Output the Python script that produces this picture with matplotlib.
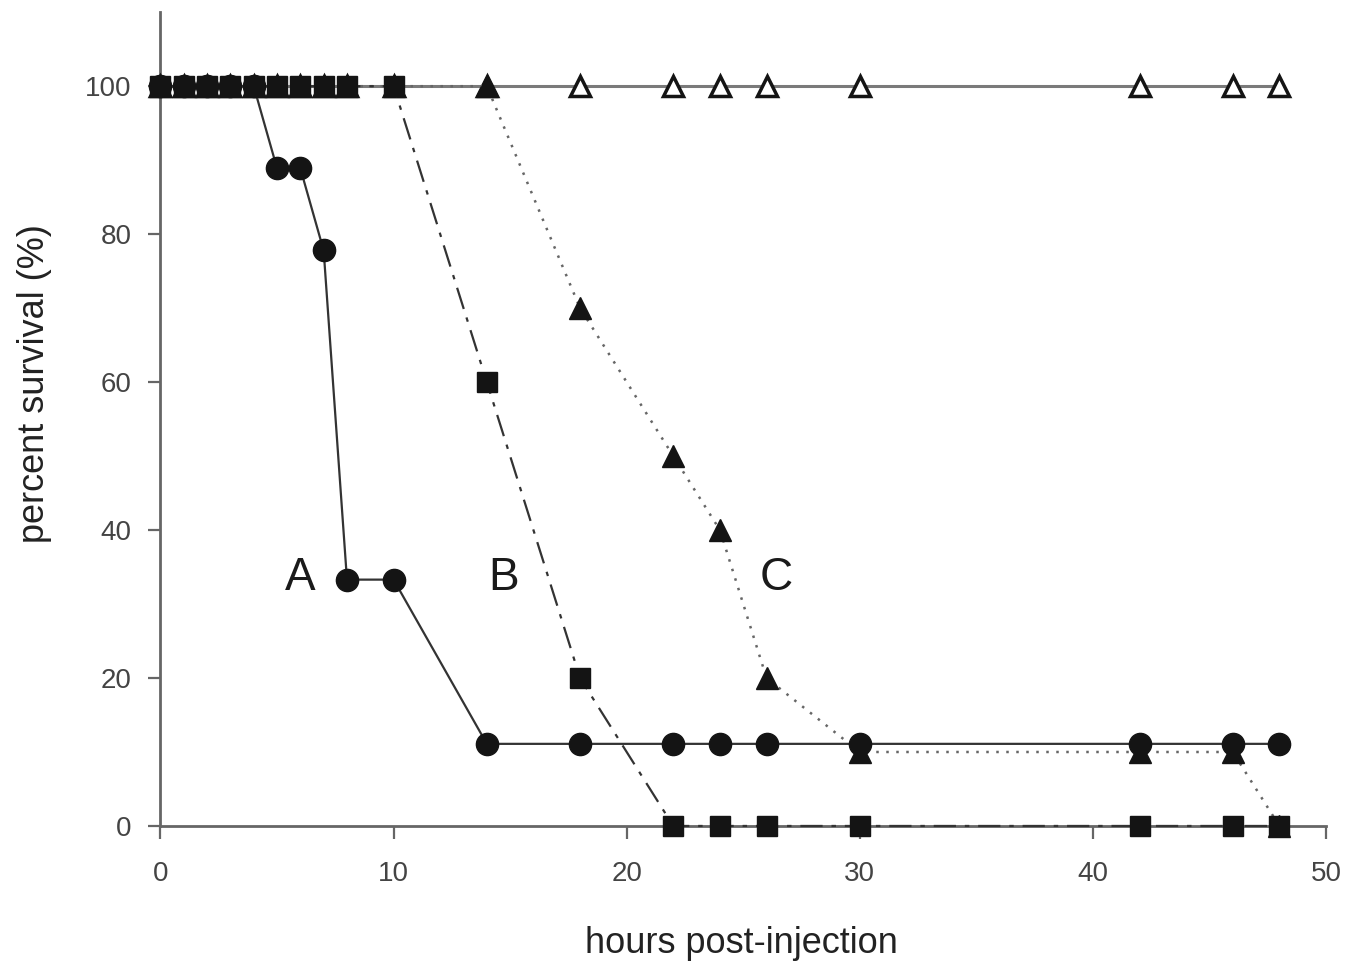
import matplotlib
matplotlib.use('Agg')
import matplotlib.pyplot as plt

# survival data
hours = [0, 1, 2, 3, 4, 5, 6, 7, 8, 10, 14, 18, 22, 24, 26, 30, 42, 46, 48]
surv_a = [100, 100, 100, 100, 100, 88.9, 88.9, 77.8, 33.3, 33.3, 11.1, 11.1, 11.1, 11.1, 11.1, 11.1, 11.1, 11.1, 11.1]
surv_b = [100, 100, 100, 100, 100, 100, 100, 100, 100, 100, 60, 20, 0, 0, 0, 0, 0, 0, 0]
surv_c = [100, 100, 100, 100, 100, 100, 100, 100, 100, 100, 100, 70, 50, 40, 20, 10, 10, 10, 0]
surv_ctrl = [100] * len(hours)

labels = ['A', 'B', 'C']
label_x = [6.0, 14.7, 26.4]
label_y = [33.5, 33.5, 33.5]

plt.rcParams['font.family'] = ['Liberation Sans', 'DejaVu Sans']

fig = plt.figure(figsize=(13.6, 9.63), dpi=100)
ax = fig.add_axes([0.118, 0.1423, 0.857, 0.845])

mk = '#141414'
ax.plot(hours, surv_ctrl, color='#7a7a7a', lw=2.2, marker='^', ms=14,
        mfc='white', mec=mk, mew=2.5, zorder=2)
ax.plot(hours, surv_c, color='#666666', lw=1.8, ls=(0, (1, 3)), marker='^', ms=16,
        mfc=mk, mec=mk, zorder=3)
ax.plot(hours, surv_b, color='#333333', lw=1.6, ls=(0, (10, 4, 2, 4)), marker='s', ms=14,
        mfc=mk, mec=mk, zorder=4)
ax.plot(hours, surv_a, color='#333333', lw=1.6, marker='o', ms=16,
        mfc=mk, mec=mk, zorder=5)

for t, x, y in zip(labels, label_x, label_y):
    ax.text(x, y, t, fontsize=33, ha='center', va='center', color='#1a1a1a')

ax.set_xlim(0, 50)
ax.set_ylim(0, 110)
ax.set_xticks([0, 10, 20, 30, 40, 50])
ax.set_yticks([0, 20, 40, 60, 80, 100])
for s in ['top', 'right']:
    ax.spines[s].set_visible(False)
for s in ['left', 'bottom']:
    ax.spines[s].set_color('#666666')
    ax.spines[s].set_linewidth(2)
    ax.spines[s].set_zorder(1)
ax.tick_params(axis='both', direction='out', length=9, width=1.6, color='#666666',
               labelsize=20, labelcolor='#444444')
ax.tick_params(axis='x', pad=16)
ax.tick_params(axis='y', pad=12)

ax.set_xlabel('hours post-injection', fontsize=26, color='#222222')
ax.set_ylabel('percent survival (%)', fontsize=26, color='#222222')
ax.xaxis.set_label_coords(0.4987, -0.123)
ax.yaxis.set_label_coords(-0.093, 0.544)
for a in ax.lines:
    a.set_clip_on(False)

fig.savefig('out.png', dpi=100)
